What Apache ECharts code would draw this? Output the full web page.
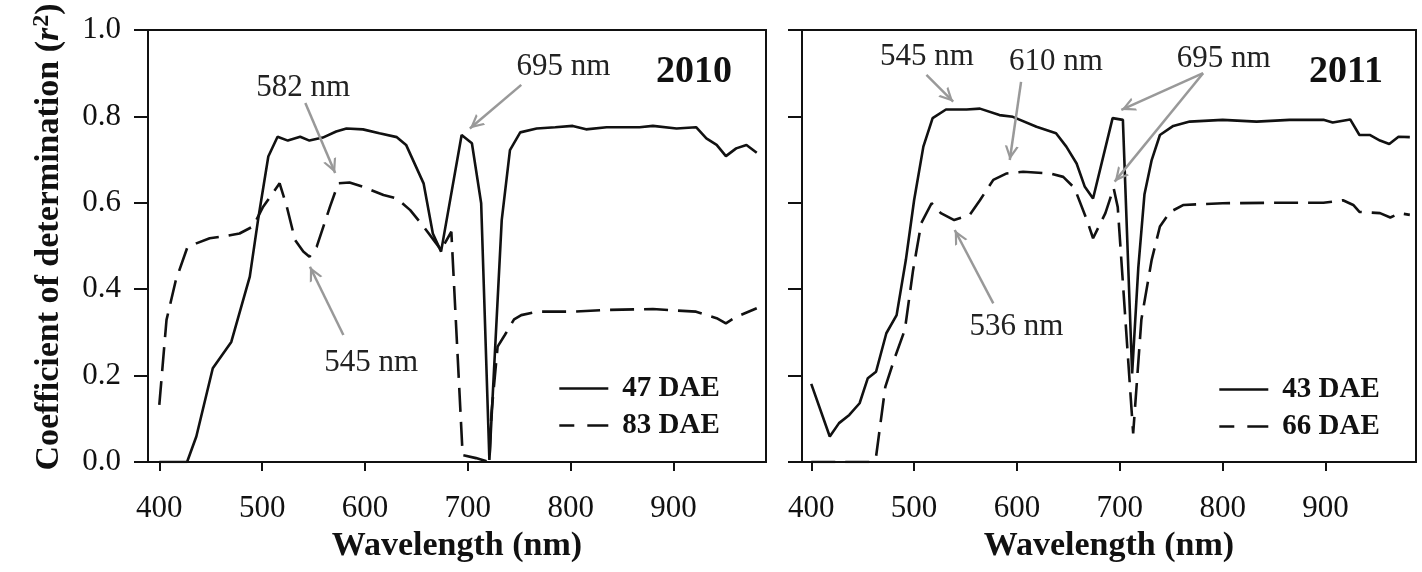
<!DOCTYPE html>
<html>
<head>
<meta charset="utf-8">
<script src="https://cdn.jsdelivr.net/npm/echarts@6/dist/echarts.min.js"></script>
<style>
  html, body { margin: 0; padding: 0; background: #fff; }
  #chart { width: 1422px; height: 572px; }
</style>
</head>
<body>
<div id="chart"></div>
<script>
// Coefficient of determination (r^2) across wavelength, two seasons.
// Each series is a list of [wavelength (nm), r^2].
const dae47_2010 = [
  [400,0],[427,0],[436,0.059],[452,0.217],[470,0.278],[488,0.429],[496,0.56],[506,0.707],
  [515,0.753],[525,0.744],[537,0.753],[546,0.744],[559,0.751],[572,0.765],[582,0.772],
  [598,0.770],[614,0.761],[631,0.752],[640,0.734],[657,0.645],[666,0.529],[674,0.487],
  [694,0.757],[704,0.738],[713,0.599],[721,0.005],[733,0.56],[741,0.722],[751,0.763],
  [767,0.772],[785,0.775],[802,0.778],[815,0.770],[835,0.775],[867,0.775],[880,0.778],
  [903,0.772],[922,0.775],[932,0.749],[942,0.734],[951,0.708],[961,0.726],[971,0.734],[981,0.716]
];
const dae83_2010 = [
  [400,0.132],[407,0.329],[416,0.42],[427,0.495],[436,0.506],[449,0.518],[462,0.522],
  [478,0.529],[491,0.545],[501,0.591],[517,0.645],[524,0.591],[532,0.514],[540,0.487],
  [546,0.475],[553,0.498],[566,0.591],[574,0.645],[585,0.647],[598,0.637],[618,0.618],
  [631,0.61],[644,0.583],[657,0.545],[674,0.491],[684,0.533],[695,0.016],[708,0.009],
  [721,0],[723,0.113],[729,0.267],[736,0.294],[745,0.33],[752,0.34],[767,0.348],
  [802,0.348],[835,0.352],[880,0.354],[922,0.348],[942,0.333],[951,0.321],[961,0.336],[981,0.356]
];
const dae43_2011 = [
  [400,0.181],[418,0.059],[427,0.09],[437,0.109],[447,0.136],[455,0.194],[463,0.209],
  [473,0.298],[483,0.34],[492,0.468],[500,0.606],[509,0.73],[518,0.796],[531,0.816],
  [551,0.816],[564,0.818],[583,0.803],[596,0.799],[619,0.776],[638,0.761],[648,0.73],
  [658,0.691],[666,0.637],[674,0.61],[693,0.796],[703,0.792],[712,0.205],[718,0.45],
  [724,0.62],[731,0.699],[739,0.757],[752,0.778],[768,0.788],[800,0.792],[833,0.788],
  [865,0.792],[898,0.792],[907,0.786],[924,0.793],[933,0.757],[943,0.757],[953,0.744],
  [962,0.736],[971,0.753],[982,0.752]
];
const dae66_2011 = [
  [400,0],[458,0],[463,0.012],[472,0.174],[481,0.24],[491,0.306],[499,0.444],[507,0.553],
  [517,0.599],[526,0.576],[539,0.56],[554,0.572],[564,0.606],[577,0.653],[590,0.668],
  [606,0.672],[632,0.668],[645,0.66],[656,0.634],[668,0.56],[674,0.518],[686,0.576],
  [694,0.634],[698,0.59],[713,0.066],[721,0.33],[731,0.468],[739,0.545],[749,0.579],
  [762,0.595],[800,0.599],[849,0.6],[898,0.6],[917,0.606],[927,0.595],[933,0.579],
  [953,0.576],[963,0.566],[972,0.576],[982,0.572]
];

const xTicks = [400, 500, 600, 700, 800, 900];
const yTicks = [0, 0.2, 0.4, 0.6, 0.8, 1.0];
const years = ['2010', '2011'];
const legendNames = [['47 DAE', '83 DAE'], ['43 DAE', '66 DAE']];

// Callout labels: [text, wavelength, r^2] and arrows: [[from], [to]]
const notes2010 = [['582 nm', 540, 0.866], ['545 nm', 606, 0.229], ['695 nm', 793, 0.915]];
const arrows2010 = [
  [[542, 0.831], [571, 0.669]],
  [[579, 0.294], [546.5, 0.452]],
  [[752, 0.873], [702, 0.772]]
];
const notes2011 = [['545 nm', 512.5, 0.938], ['610 nm', 638, 0.927], ['536 nm', 599.5, 0.313], ['695 nm', 801, 0.934]];
const arrows2011 = [
  [[512, 0.896], [538, 0.834]],
  [[604, 0.880], [593, 0.699]],
  [[577, 0.367], [539.5, 0.537]],
  [[781, 0.900], [701.5, 0.815]],
  [[781, 0.900], [695, 0.649]]
];
const yearPos = [920, 0.903];

const SERIF = '"Liberation Serif", "Times New Roman", serif';
const INK = '#111';
const ARROW = '#999';
const DASH = [24, 10];
const KEY_DASH = [15, 13, 22, 10];
// open chevron arrowhead; tip sits at the centre of the symbol box
const chevron = 'path://M5,-10L5.01,-10Z M5,0L10,10L8.3,10L5,3.6L1.7,10L0,10Z';

function xAxisFor(idx, min, max) {
  return {
    type: 'value', gridIndex: idx, min: min, max: max,
    axisLine: { show: true, lineStyle: { color: INK, width: 2 } },
    axisTick: { show: true, customValues: xTicks, length: 9, lineStyle: { color: INK, width: 2 } },
    axisLabel: { customValues: xTicks, fontFamily: SERIF, fontSize: 31, color: INK, margin: 31 },
    splitLine: { show: false },
    name: 'Wavelength (nm)', nameLocation: 'middle', nameGap: 66,
    nameTextStyle: { fontFamily: SERIF, fontSize: 34, fontWeight: 'bold', color: INK }
  };
}

function yAxisFor(idx, showLabels) {
  const ax = {
    type: 'value', gridIndex: idx, min: 0, max: 1, interval: 0.2,
    axisLine: { show: true, lineStyle: { color: INK, width: 2 } },
    axisTick: { show: true, length: 14, lineStyle: { color: INK, width: 2 } },
    axisLabel: {
      show: showLabels, fontFamily: SERIF, fontSize: 31, color: INK, margin: 27,
      formatter: v => v.toFixed(1)
    },
    splitLine: { show: false }
  };
  if (showLabels) {
    ax.name = '{t|Coefficient of determination (}{i|r}{s|2}{t|)}';
    ax.nameLocation = 'middle';
    ax.nameGap = 80;
    ax.nameTextStyle = {
      fontFamily: SERIF, fontSize: 34, fontWeight: 'bold', color: INK,
      padding: [0, 0, 0, 18],
      rich: {
        t: { fontFamily: SERIF, fontSize: 34, fontWeight: 'bold', color: INK },
        i: { fontFamily: SERIF, fontSize: 34, fontWeight: 'bold', fontStyle: 'italic', color: INK },
        s: { fontFamily: SERIF, fontSize: 24, fontWeight: 'bold', color: INK, verticalAlign: 'top', padding: [0, 0, 14, 1] }
      }
    };
  }
  return ax;
}

function annotations(notes, arrows, year) {
  return {
    markLine: {
      silent: true, animation: false,
      symbol: ['none', chevron], symbolSize: [14, 28],
      lineStyle: { color: ARROW, width: 2.5, type: 'solid' },
      label: { show: false },
      emphasis: { disabled: true },
      data: arrows.map(a => [{ coord: a[0] }, { coord: a[1] }])
    },
    markPoint: {
      silent: true, animation: false,
      symbol: 'circle', symbolSize: 0,
      data: notes.map(n => ({
        name: n[0], coord: [n[1], n[2]],
        label: { show: true, position: 'inside', formatter: '{b}', fontFamily: SERIF, fontSize: 31, color: '#222' }
      })).concat([{
        name: year, coord: yearPos,
        label: { show: true, position: 'inside', formatter: '{b}', fontFamily: SERIF, fontSize: 38, fontWeight: 'bold', color: INK }
      }])
    }
  };
}

function lineSeries(name, data, idx, dashed, extra) {
  return Object.assign({
    type: 'line', name: name, data: data,
    xAxisIndex: idx, yAxisIndex: idx,
    symbol: 'none', showSymbol: false, smooth: false,
    lineStyle: { color: INK, width: 2.6, type: dashed ? DASH : 'solid' },
    itemStyle: { color: INK },
    emphasis: { disabled: true },
    z: 3
  }, extra || {});
}

function legendFor(idx, left, top) {
  return {
    data: [
      { name: legendNames[idx][0] },
      { name: legendNames[idx][1], lineStyle: { type: KEY_DASH } }
    ],
    orient: 'vertical', left: left, top: top,
    itemWidth: 49, itemHeight: 14, itemGap: 8,
    selectedMode: false,
    // line-only key: hide the marker drawn on the key line
    itemStyle: { color: 'transparent', borderColor: 'transparent', borderWidth: 0, opacity: 0 },
    lineStyle: { color: INK, width: 2.6 },
    textStyle: { fontFamily: SERIF, fontSize: 29, fontWeight: 'bold', color: INK, padding: [0, 0, 0, 9] }
  };
}

const chart = echarts.init(document.getElementById('chart'), null, { renderer: 'canvas' });
chart.setOption({
  backgroundColor: '#fff',
  animation: false,
  grid: [
    { left: 148, top: 30, width: 618, height: 432, show: true, borderColor: INK, borderWidth: 2, backgroundColor: 'transparent' },
    { left: 802, top: 30, width: 614, height: 432, show: true, borderColor: INK, borderWidth: 2, backgroundColor: 'transparent' }
  ],
  xAxis: [xAxisFor(0, 389, 990), xAxisFor(1, 391, 988)],
  yAxis: [yAxisFor(0, true), yAxisFor(1, false)],
  legend: [legendFor(0, 553, 369), legendFor(1, 1213, 370)],
  series: [
    lineSeries(legendNames[0][0], dae47_2010, 0, false, annotations(notes2010, arrows2010, years[0])),
    lineSeries(legendNames[0][1], dae83_2010, 0, true),
    lineSeries(legendNames[1][0], dae43_2011, 1, false, annotations(notes2011, arrows2011, years[1])),
    lineSeries(legendNames[1][1], dae66_2011, 1, true)
  ]
});
</script>
</body>
</html>
